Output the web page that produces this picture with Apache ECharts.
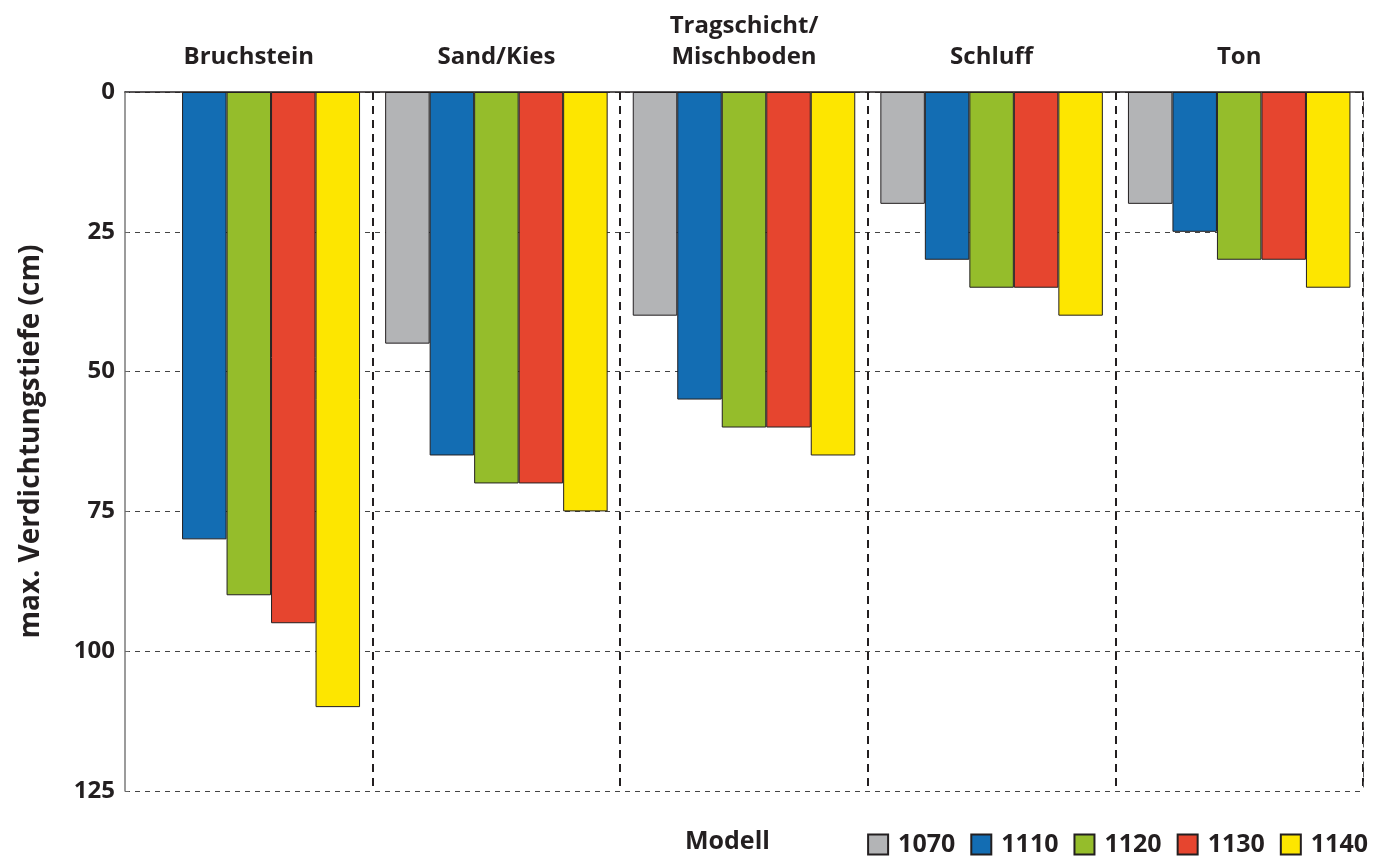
<!DOCTYPE html>
<html>
<head>
<meta charset="utf-8">
<title>max. Verdichtungstiefe</title>
<script src="https://cdn.jsdelivr.net/npm/echarts@6/dist/echarts.min.js"></script>
<style>
  html, body { margin: 0; padding: 0; background: #fff; }
  #chart { width: 1382px; height: 859px; }
</style>
</head>
<body>
<div id="chart"></div>
<script>
// Bodenarten (Kategorien oben)
const SOILS = ['Bruchstein', 'Sand/Kies', 'Tragschicht/\nMischboden', 'Schluff', 'Ton'];

// Modelle
const MODELS = ['1070', '1110', '1120', '1130', '1140'];
const MODEL_COLORS = ['#b3b4b6', '#136db3', '#95bd2b', '#e6452f', '#fde600'];

// Verdichtungstiefe in cm je Modell ('-' = kein Wert)
const DEPTH_1070 = ['-', 45, 40, 20, 20];
const DEPTH_1110 = [80, 65, 55, 30, 25];
const DEPTH_1120 = [90, 70, 60, 35, 30];
const DEPTH_1130 = [95, 70, 60, 35, 30];
const DEPTH_1140 = [110, 75, 65, 40, 35];
const DEPTHS = [DEPTH_1070, DEPTH_1110, DEPTH_1120, DEPTH_1130, DEPTH_1140];

const Y_TICKS = { min: 0, max: 125, interval: 25 };

const FONT = '"Open Sans", Lato, sans-serif';
const INK = '#231f20';

const chart = echarts.init(document.getElementById('chart'));

const option = {
  animation: false,
  textStyle: { fontFamily: FONT },
  grid: { left: 125, right: 19, top: 92, bottom: 68 },
  legend: {
    data: MODELS,
    right: 14,
    top: 832,
    padding: 0,
    icon: 'rect',
    itemWidth: 20,
    itemHeight: 20,
    itemGap: 15,
    textStyle: { fontFamily: FONT, fontWeight: 'bold', fontSize: 25, color: INK, padding: [0, 0, 0, 5] }
  },
  graphic: [{
    type: 'text',
    left: 685,
    top: 829,
    style: { text: 'Modell', font: 'bold 25px ' + FONT, fill: INK }
  }],
  xAxis: [{
    type: 'category',
    position: 'top',
    data: SOILS,
    axisLine: { show: true, lineStyle: { color: INK, width: 1.5 } },
    axisTick: { show: false },
    axisLabel: {
      fontFamily: FONT, fontWeight: 'bold', fontSize: 24, color: INK,
      margin: 19, lineHeight: 31
    },
    splitLine: {
      show: true,
      interval: (i) => i > 0,
      lineStyle: { color: INK, type: [8, 6], width: 2 }
    }
  }],
  yAxis: [{
    type: 'value',
    position: 'left',
    inverse: true,
    min: Y_TICKS.min,
    max: Y_TICKS.max,
    interval: Y_TICKS.interval,
    name: 'max. Verdichtungstiefe (cm)',
    nameLocation: 'middle',
    nameGap: 80,
    nameTextStyle: { fontFamily: FONT, fontWeight: 'bold', fontSize: 28, color: INK },
    axisLine: { show: true, onZero: false, lineStyle: { color: '#7a7a7a', width: 1.5 } },
    axisTick: { show: true, inside: true, length: 4, lineStyle: { color: '#666' } },
    axisLabel: { fontFamily: FONT, fontWeight: 'bold', fontSize: 24, color: INK, margin: 10 },
    splitLine: { show: true, lineStyle: { color: '#444', type: [5, 5], width: 1 } }
  }, {
    type: 'value',
    position: 'right',
    inverse: true,
    min: Y_TICKS.min,
    max: Y_TICKS.max,
    interval: Y_TICKS.interval,
    axisLine: { show: true, onZero: false, lineStyle: { color: '#555', type: [5, 5], width: 1 } },
    axisTick: { show: false },
    axisLabel: { show: false },
    splitLine: { show: false }
  }],
  series: MODELS.map((m, i) => ({
    name: m,
    type: 'bar',
    data: DEPTHS[i],
    barWidth: 44.5,
    barGap: '0%',
    itemStyle: { color: MODEL_COLORS[i], borderColor: INK, borderWidth: 1 }
  }))
};

chart.setOption(option);
window.addEventListener('resize', () => chart.resize());
</script>
</body>
</html>
